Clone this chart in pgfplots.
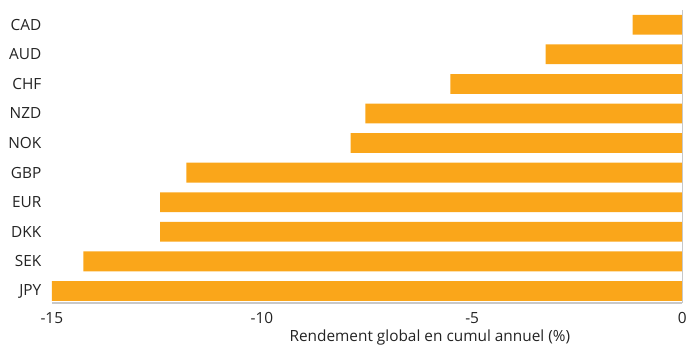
\documentclass[border=0pt]{standalone}
\usepackage{fontspec}
\setmainfont{Open Sans}
\usepackage{pgfplots}
\pgfplotsset{compat=1.18}
\definecolor{barorange}{RGB}{250,166,26}
\definecolor{axgray}{RGB}{200,200,200}
\definecolor{txt}{RGB}{35,35,35}
\begin{document}
\begin{tikzpicture}
\begin{axis}[
  name=ax,
  scale only axis,
  width=633bp, height=294bp,
  xbar, bar width=0.67,
  xmin=-15, xmax=0,
  ymin=-0.4, ymax=9.5,
  xtick={-15,-10,-5,0},
  ytick={0,...,9},
  yticklabels={JPY,SEK,DKK,EUR,GBP,NOK,NZD,CHF,AUD,CAD},
  axis x line*=bottom,
  axis y line*=left,
  separate axis lines,
  x axis line style={draw=axgray, line width=1.5pt, -},
  y axis line style={draw=none},
  major tick length=0pt,
  tick style={draw=none},
  /pgf/number format/assume math mode=true,
  ticklabel style={font=\fontsize{15.5}{17}\selectfont, text=txt},
  xticklabel style={yshift=-6bp},
  yticklabel style={anchor=east, xshift=-7bp},
  xlabel={Rendement global en cumul annuel (\%)},
  xlabel style={font=\fontsize{15.5}{17}\selectfont, text=txt, yshift=1bp, xshift=63bp},
  clip=false,
]
\addplot[fill=barorange, draw=none] coordinates {
  (-15.0,0) (-14.25,1) (-12.42,2) (-12.42,3) (-11.8,4) (-7.89,5) (-7.54,6) (-5.52,7) (-3.25,8) (-1.18,9)
};
\draw[axgray, line width=1.5pt] (axis cs:0,-0.4) -- (axis cs:0,9.5);
\end{axis}
\path (ax.south west) ++(-52bp,-42bp) rectangle ++(690bp,346bp);
\end{tikzpicture}
\end{document}
